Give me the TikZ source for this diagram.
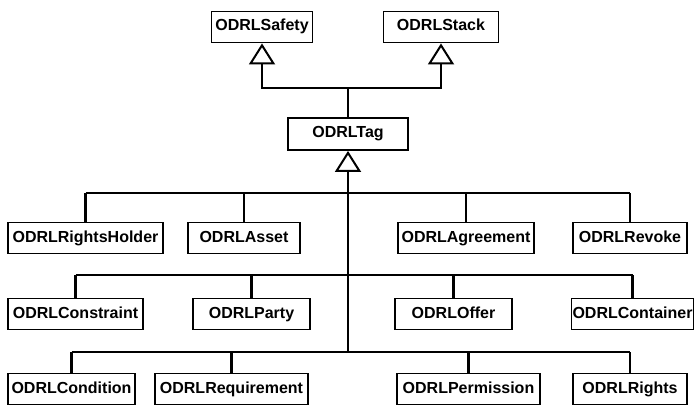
\documentclass[tikz,border=0pt]{standalone}
\usepackage{fontspec}
\setmainfont{Liberation Sans}
\usepackage{tikz}
\usetikzlibrary{calc,arrows.meta,positioning}

\begin{document}
\begin{tikzpicture}[
  x=1pt, y=-1pt,
  cls/.style={draw, line width=1.9pt, fill=white, minimum height=31pt, inner sep=1pt, text height=11.5pt, text depth=3.5pt, font=\fontsize{16}{18}\selectfont\bfseries},
  inh/.style={-{Triangle[open, length=21pt, width=26pt, line width=2pt]}, line width=2.3pt},
  bus/.style={line width=2.3pt}
]
\useasboundingbox (0,0) rectangle (695,406);
% ---- top level
\node[cls, minimum width=101pt] (sfty) at (262,27) {ODRLSafety};
\node[cls, minimum width=115pt] (stck) at (441,27) {ODRLStack};
\node[cls, minimum width=120pt, minimum height=32pt] (tag) at (348,134) {ODRLTag};
\coordinate (top) at (348,88);
\draw[bus] (tag.north) -- (top);
\draw[inh] (top) -| (sfty.south);
\draw[inh] (top) -| (stck.south);
% ---- bus lines
\coordinate (b1) at (348,193);
\coordinate (b2) at (348,275);
\coordinate (b3) at (348,352);
\draw[inh] (b3) -- (tag.south);
% ---- row 1
\foreach \n/\t/\x/\w in {rh/RightsHolder/85.5/155, as/Asset/244/112, ag/Agreement/466/136, rv/Revoke/630/114} {
  \node[cls, minimum width=\w pt] (\n) at (\x,238) {ODRL\t};
  \draw[bus] (\n.north) -- (\n.north |- b1);
}
\draw[bus] (rh.north |- b1) -- (rv.north |- b1);
% ---- row 2
\foreach \n/\t/\x/\w in {cn/Constraint/75.5/135, pa/Party/251.5/117, of/Offer/453.5/117, ct/Container/632.5/119} {
  \node[cls, minimum width=\w pt] (\n) at (\x,314) {ODRL\t};
  \draw[bus] (\n.north) -- (\n.north |- b2);
}
\draw[bus] (cn.north |- b2) -- (ct.north |- b2);
% ---- row 3
\foreach \n/\t/\x/\w in {cd/Condition/71.5/127, rq/Requirement/231.5/153, pm/Permission/468.5/143, ri/Rights/630/114} {
  \node[cls, minimum width=\w pt] (\n) at (\x,389) {ODRL\t};
  \draw[bus] (\n.north) -- (\n.north |- b3);
}
\draw[bus] (cd.north |- b3) -- (ri.north |- b3);
\end{tikzpicture}
\end{document}
